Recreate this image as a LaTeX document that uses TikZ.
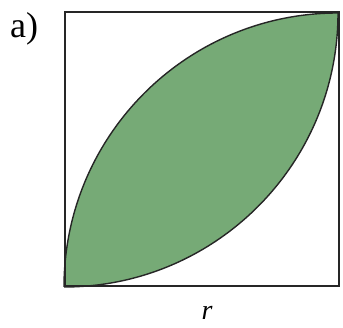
\documentclass[tikz,border=0pt]{standalone}
\usepackage{fontspec}
\setmainfont{Liberation Serif}
\definecolor{leafgreen}{RGB}{118,170,118}
\tikzset{
  frame/.style={draw=black!85, line width=1.8pt},
  leaf/.style={fill=leafgreen, draw=black!85, line width=1.4pt},
  lbl/.style={inner sep=0pt, font=\fontsize{36}{38}\selectfont}
}
\begin{document}
\begin{tikzpicture}[x=1pt,y=1pt]
\useasboundingbox (0,0) rectangle (343,328);
\coordinate (bl) at (64,41);
\coordinate (tr) at (338,315);
\fill[leafgreen] (bl) arc[start angle=180, end angle=90, radius=274] arc[start angle=0, end angle=-90, radius=274] -- cycle;
\draw[leaf, fill=none] (bl) arc[start angle=180, end angle=90, radius=274];
\draw[leaf, fill=none] (tr) arc[start angle=0, end angle=-90, radius=274];
\node[frame, minimum width=274pt, minimum height=274pt, inner sep=0pt, anchor=south west] (sq) at (bl) {};
\node[lbl, anchor=base west] (lab) at (10,290) {a)};
\node[lbl, font=\itshape\fontsize{28}{30}\selectfont, anchor=base] (r) at (207,8) {r};
\end{tikzpicture}
\end{document}
